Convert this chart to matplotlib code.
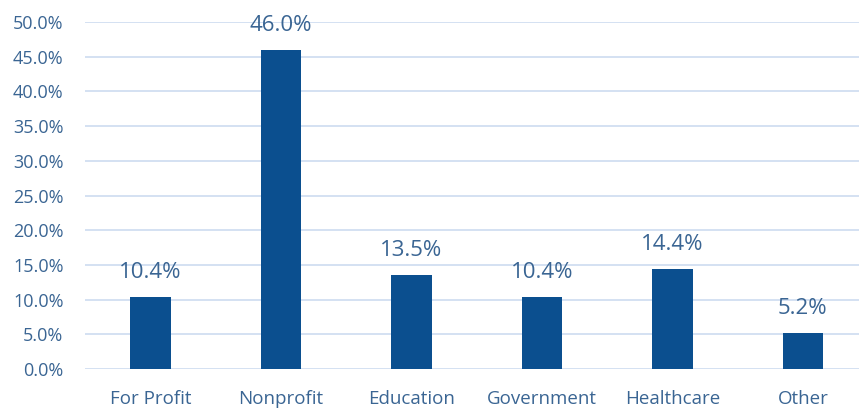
import matplotlib
matplotlib.use("Agg")
import matplotlib.pyplot as plt
from matplotlib.ticker import PercentFormatter

# sector shares
categories = ["For Profit", "Nonprofit", "Education", "Government", "Healthcare", "Other"]
shares = [10.4, 46.0, 13.5, 10.4, 14.4, 5.2]
yticks = [0, 5, 10, 15, 20, 25, 30, 35, 40, 45, 50]

bar_color = "#0b4f8f"
text_color = "#3a6593"

plt.rcParams["font.family"] = ["Open Sans", "DejaVu Sans"]

fig = plt.figure(figsize=(8.59, 4.08), dpi=100)
ax = fig.add_axes([0.099, 0.0956, 0.901, 0.8504])

x = range(len(categories))
bars = ax.bar(x, shares, width=0.31, color=bar_color, zorder=3)
for b, v in zip(bars, shares):
    ax.text(b.get_x() + b.get_width() / 2, v + 2.0, f"{v:.1f}%",
            ha="center", va="bottom", fontsize=16, color=text_color)

ax.set_ylim(0, 50)
ax.set_xlim(-0.5, 5.43)
ax.set_yticks(yticks)
ax.yaxis.set_major_formatter(PercentFormatter(decimals=1))
ax.set_xticks(list(x))
ax.set_xticklabels(categories)
ax.tick_params(axis="both", length=0, colors=text_color)
ax.tick_params(axis="y", pad=15.5, labelsize=13)
ax.tick_params(axis="x", pad=15, labelsize=13.5)
ax.grid(axis="y", color="#cddcf0", linewidth=1.2, zorder=0)
for s in ax.spines.values():
    s.set_visible(False)

fig.savefig("out.png", dpi=100)
